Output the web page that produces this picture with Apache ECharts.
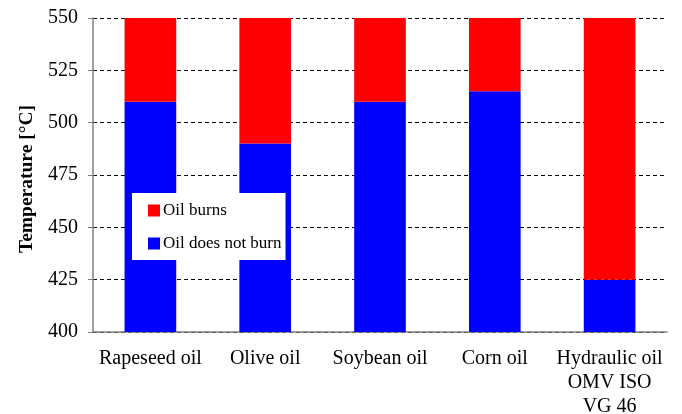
<!DOCTYPE html>
<html><head><meta charset="utf-8">
<script src="https://cdn.jsdelivr.net/npm/echarts@6/dist/echarts.min.js"></script>
<style>html,body{margin:0;padding:0;background:#fff}#c{width:682px;height:414px}</style>
</head><body><div id="c"></div>
<script>
const categories = ['Rapeseed oil', 'Olive oil', 'Soybean oil', 'Corn oil', 'Hydraulic oil\nOMV ISO\nVG 46'];
const doesNotBurn = [510, 490, 510, 515, 425];
const burnsTop = [550, 550, 550, 550, 550];
const burns = burnsTop.map((t, i) => t - doesNotBurn[i]);
const yTicks = [400, 425, 450, 475, 500, 525, 550];

const font = 'Liberation Serif';
const chart = echarts.init(document.getElementById('c'));
chart.setOption({
  animation: false,
  textStyle: { fontFamily: font },
  grid: { left: 93, right: 15, top: 18, bottom: 82, containLabel: false, outerBoundsMode: 'none' },
  legend: {
    left: 132, top: 193, orient: 'vertical',
    backgroundColor: '#fff', padding: [9, 4, 8, 16],
    itemWidth: 12, itemHeight: 12, itemGap: 16,
    icon: 'rect',
    textStyle: { fontFamily: font, fontSize: 17, color: '#000', padding: [0, 0, 0, -2] },
    data: ['Oil burns', 'Oil does not burn']
  },
  xAxis: {
    type: 'category', data: categories,
    axisLine: { lineStyle: { color: '#808080', width: 1.5 } },
    axisTick: { show: false },
    axisLabel: { fontFamily: font, fontSize: 20, color: '#000', margin: 15, lineHeight: 24, interval: 0 }
  },
  yAxis: {
    type: 'value', min: yTicks[0], max: yTicks[yTicks.length - 1], interval: 25,
    name: 'Temperature [°C]', nameLocation: 'middle', nameGap: 56,
    nameTextStyle: { fontFamily: font, fontSize: 19.5, fontWeight: 'bold', color: '#000', padding: [0, 8, 0, 0] },
    axisLine: { show: true, lineStyle: { color: '#808080', width: 1.5 } },
    axisTick: { show: true, length: 5, lineStyle: { color: '#808080' } },
    axisLabel: { fontFamily: font, fontSize: 20, color: '#000', margin: 15 },
    splitLine: { lineStyle: { color: '#000', type: [4, 3], width: 1 } }
  },
  series: [
    { name: 'Oil does not burn', type: 'bar', stack: 's', data: doesNotBurn, barWidth: '45%', itemStyle: { color: '#0000FF' } },
    { name: 'Oil burns', type: 'bar', stack: 's', data: burns, barWidth: '45%', itemStyle: { color: '#FF0000' } }
  ]
});
</script></body></html>
